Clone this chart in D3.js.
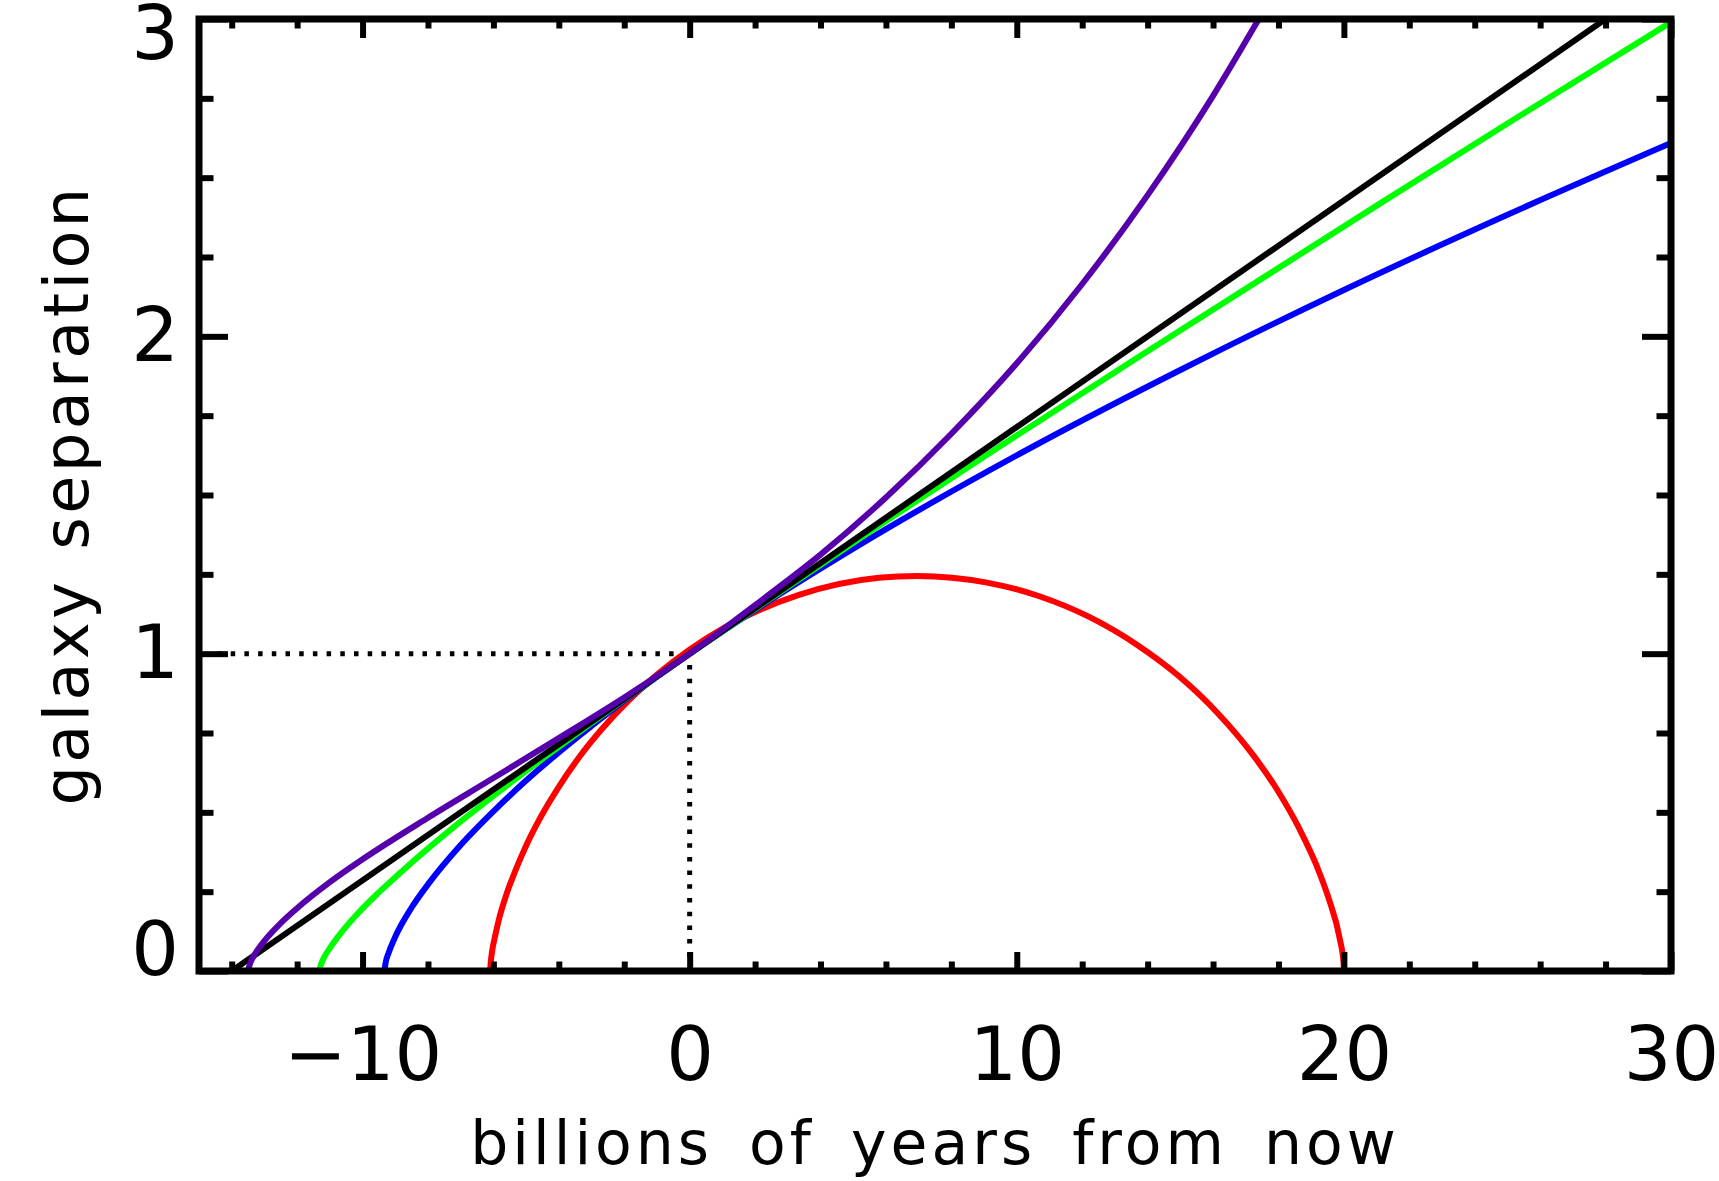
<!DOCTYPE html>
<html lang="en">
<head>
  <meta charset="UTF-8">
  <title>Galaxy separation vs time</title>
  <script src="https://d3js.org/d3.v7.min.js"></script>
  <style>
    body { margin: 0; background: #fff; }
    svg { display: block; }
    .tick text { font-family: "DejaVu Sans", sans-serif; font-size: 75px; fill: #000; }
    .tick line { stroke: #000; stroke-width: 6; }
    .domain { display: none; }
    .label { font-family: "DejaVu Sans", sans-serif; font-size: 60px; fill: #000; }
  </style>
</head>
<body>
  <script>
    // ticks
    const xMajor = [-10, 0, 10, 20, 30];
    const xMinor = [-14, -12, -8, -6, -4, -2, 2, 4, 6, 8, 12, 14, 16, 18, 22, 24, 26, 28];
    const yMajor = [0, 1, 2, 3];
    const yMinor = [0.25, 0.5, 0.75, 1.25, 1.5, 1.75, 2.25, 2.5, 2.75];

    // curves: [time in Gyr, separation]
    const redPts = [[-6.1, 0], [-6.08, 0.028], [-6.04, 0.062], [-5.95, 0.109], [-5.82, 0.167],
      [-5.62, 0.236], [-5.34, 0.313], [-4.99, 0.397], [-4.55, 0.486], [-4.01, 0.579],
      [-3.39, 0.672], [-2.67, 0.764], [-1.86, 0.853], [-0.96, 0.937], [1.06, 1.082],
      [3.34, 1.185], [5.78, 1.239], [6.95, 1.245], [9.09, 1.224], [10.69, 1.181],
      [12.23, 1.115], [13.66, 1.029], [14.97, 0.928], [16.13, 0.814], [17.14, 0.692],
      [17.98, 0.568], [18.65, 0.446], [19.17, 0.331], [19.54, 0.227], [19.87, 0.103],
      [19.99, 0.025], [20.0, 0]];
    const bluePts = [[-9.33, 0], [-9.3, 0.023], [-9.2, 0.058], [-9, 0.108], [-8.5, 0.2], [-8, 0.273],
      [-7, 0.397], [-6, 0.503], [-5, 0.6], [-4, 0.689], [-3, 0.772], [-2, 0.852], [-1, 0.927],
      [0, 1], [2, 1.138], [5, 1.331], [10, 1.625], [15, 1.894], [20, 2.146], [25, 2.383], [30, 2.609]];
    const greenPts = [[-11.32, 0], [-11.3, 0.01], [-11.19, 0.04], [-11.0, 0.072], [-10.69, 0.116],
      [-10.21, 0.174], [-9.51, 0.247], [-8.54, 0.338], [-7.23, 0.452], [-5.97, 0.554],
      [-4.43, 0.674], [-2.57, 0.814], [0, 1], [2.36, 1.166], [5.55, 1.387], [9.36, 1.645],
      [13.84, 1.943], [21.11, 2.419], [25.38, 2.695], [30, 2.99]];
    const blackPts = [[-14, 0], [0, 1], [28, 3]];
    const purplePts = [[-13.5, 0], [-13.45, 0.02], [-13.4, 0.033], [-13.3, 0.052], [-13.1, 0.082],
      [-12.5, 0.151], [-12, 0.198], [-11, 0.28], [-10, 0.352], [-8, 0.483], [-6, 0.608],
      [-4, 0.734], [-2, 0.862], [0, 1], [2, 1.153], [4, 1.312], [6, 1.492], [8, 1.693],
      [10, 1.915], [12, 2.165], [14, 2.445], [16, 2.758], [17.4, 3.0]];

    const series = [
      { name: "red", color: "#ff0000", pts: redPts },
      { name: "blue", color: "#0000ff", pts: bluePts },
      { name: "green", color: "#00ff00", pts: greenPts },
      { name: "black", color: "#000000", pts: blackPts },
      { name: "purple", color: "#5500aa", pts: purplePts }
    ];

    const W = 1719, H = 1181;
    const m = { left: 199, right: 1671, top: 19, bottom: 971 };

    const x = d3.scaleLinear().domain([-15, 30]).range([m.left, m.right]);
    const y = d3.scaleLinear().domain([0, 3]).range([m.bottom, m.top]);

    const svg = d3.select("body").append("svg").attr("width", W).attr("height", H);

    svg.append("defs").append("clipPath").attr("id", "plot")
      .append("rect")
      .attr("x", m.left).attr("y", m.top)
      .attr("width", m.right - m.left).attr("height", m.bottom - m.top);

    const fmt = d => d < 0 ? "\u2212" + Math.abs(d) : String(d);

    // dotted guides at now / separation 1
    const guides = svg.append("g")
      .attr("stroke", "#000")
      .attr("stroke-width", 5)
      .attr("stroke-dasharray", "4.5 9.2");
    guides.append("line")
      .attr("x1", x(-15) + 18).attr("x2", x(0))
      .attr("y1", y(1)).attr("y2", y(1));
    guides.append("line")
      .attr("x1", x(0)).attr("x2", x(0))
      .attr("y1", y(0)).attr("y2", y(1));

    // curves
    const line = d3.line()
      .x(d => x(d[0]))
      .y(d => y(d[1]))
      .curve(d3.curveMonotoneX);

    svg.append("g")
      .attr("clip-path", "url(#plot)")
      .selectAll("path")
      .data(series)
      .join("path")
      .attr("fill", "none")
      .attr("stroke", d => d.color)
      .attr("stroke-width", 6)
      .attr("stroke-linejoin", "round")
      .attr("d", d => line(d.pts));

    // axes: ticks point inward on all four sides
    const xTickMaj = 19, xTickMin = 9.5, yTickMaj = 29, yTickMin = 14.5;

    svg.append("g").attr("transform", `translate(0,${m.bottom})`)
      .call(d3.axisBottom(x).tickValues(xMinor).tickSize(-xTickMin).tickFormat(""));
    svg.append("g").attr("transform", `translate(0,${m.bottom})`)
      .call(d3.axisBottom(x).tickValues(xMajor).tickSize(-xTickMaj).tickPadding(56).tickFormat(fmt));
    svg.append("g").attr("transform", `translate(0,${m.top})`)
      .call(d3.axisTop(x).tickValues(xMinor).tickSize(-xTickMin).tickFormat(""));
    svg.append("g").attr("transform", `translate(0,${m.top})`)
      .call(d3.axisTop(x).tickValues(xMajor).tickSize(-xTickMaj).tickFormat(""));

    svg.append("g").attr("transform", `translate(${m.left},0)`)
      .call(d3.axisLeft(y).tickValues(yMinor).tickSize(-yTickMin).tickFormat(""));
    const yAx = svg.append("g").attr("transform", `translate(${m.left},0)`)
      .call(d3.axisLeft(y).tickValues(yMajor).tickSize(-yTickMaj).tickPadding(20).tickFormat(d3.format("d")));
    yAx.selectAll(".tick text").filter(d => d === 0).attr("dy", "0.05em");
    yAx.selectAll(".tick text").filter(d => d === 3).attr("dy", "0.52em");
    svg.append("g").attr("transform", `translate(${m.right},0)`)
      .call(d3.axisRight(y).tickValues(yMinor).tickSize(-yTickMin).tickFormat(""));
    svg.append("g").attr("transform", `translate(${m.right},0)`)
      .call(d3.axisRight(y).tickValues(yMajor).tickSize(-yTickMaj).tickFormat(""));

    // plot frame
    svg.append("rect")
      .attr("x", m.left).attr("y", m.top)
      .attr("width", m.right - m.left).attr("height", m.bottom - m.top)
      .attr("fill", "none")
      .attr("stroke", "#000")
      .attr("stroke-width", 7);

    // axis titles
    svg.append("text")
      .attr("class", "label")
      .attr("x", (m.left + m.right) / 2)
      .attr("y", 1164)
      .attr("text-anchor", "middle")
      .style("letter-spacing", "4px")
      .style("word-spacing", "13px")
      .text("billions of years from now");

    svg.append("text")
      .attr("class", "label")
      .attr("transform", `translate(88,${(m.top + m.bottom) / 2}) rotate(-90)`)
      .attr("text-anchor", "middle")
      .style("font-size", "62px")
      .style("letter-spacing", "3.5px")
      .style("word-spacing", "6px")
      .text("galaxy separation");
  </script>
</body>
</html>
